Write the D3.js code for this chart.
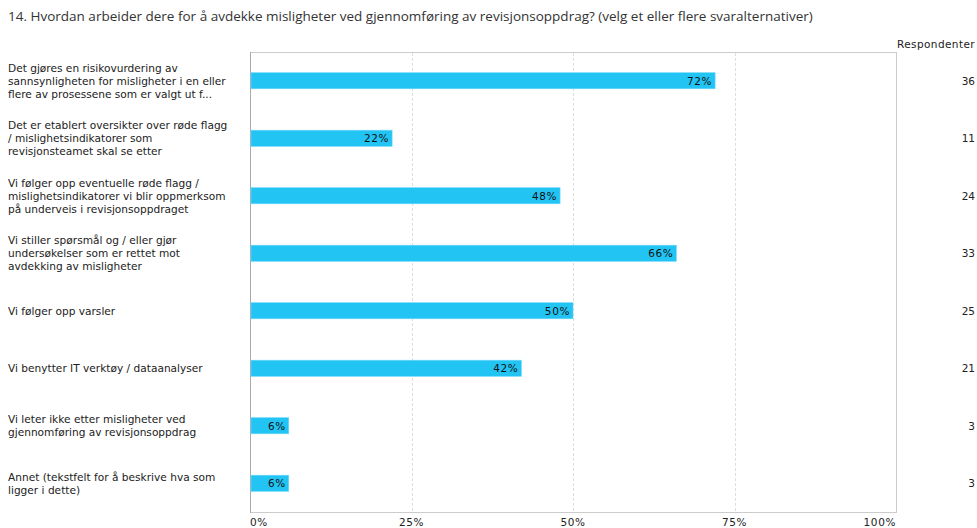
<!DOCTYPE html>
<html>
<head>
<meta charset="utf-8">
<script src="https://cdn.jsdelivr.net/npm/d3@7"></script>
<style>
  html, body { margin: 0; padding: 0; background: #fff; }
  svg { display: block; }
</style>
</head>
<body>
<svg id="chart" width="977" height="528"></svg>
<script>
// Survey question and answer options
const title = "14. Hvordan arbeider dere for å avdekke misligheter ved gjennomføring av revisjonsoppdrag? (velg et eller flere svaralternativer)";
const categories = [
  ["Det gjøres en risikovurdering av", "sannsynligheten for misligheter i en eller", "flere av prosessene som er valgt ut f..."],
  ["Det er etablert oversikter over røde flagg", "/ mislighetsindikatorer som", "revisjonsteamet skal se etter"],
  ["Vi følger opp eventuelle røde flagg /", "mislighetsindikatorer vi blir oppmerksom", "på underveis i revisjonsoppdraget"],
  ["Vi stiller spørsmål og / eller gjør", "undersøkelser som er rettet mot", "avdekking av misligheter"],
  ["Vi følger opp varsler"],
  ["Vi benytter IT verktøy / dataanalyser"],
  ["Vi leter ikke etter misligheter ved", "gjennomføring av revisjonsoppdrag"],
  ["Annet (tekstfelt for å beskrive hva som", "ligger i dette)"]
];
const percents = [72, 22, 48, 66, 50, 42, 6, 6];
const respondents = [36, 11, 24, 33, 25, 21, 3, 3];
const tickValues = [0, 25, 50, 75, 100];
const countHeader = "Respondenter";

const svg = d3.select("#chart");
const plot = { left: 250, right: 896, top: 52, bottom: 512 };
const labelFont = "'DejaVu Sans', Verdana, sans-serif";

svg.append("text")
  .attr("x", 8).attr("y", 21)
  .attr("font-family", "'Open Sans', 'Noto Sans', sans-serif")
  .attr("font-size", 13.5)
  .attr("fill", "#333")
  .text(title);

const x = d3.scaleLinear().domain([0, 100]).range([plot.left, plot.right]);
const y = d3.scaleBand().domain(d3.range(categories.length))
  .range([plot.top, plot.bottom]).paddingInner(0.72).paddingOuter(0.36);

// plot frame
svg.append("rect")
  .attr("x", plot.left + 0.5).attr("y", plot.top + 0.5)
  .attr("width", plot.right - plot.left).attr("height", plot.bottom - plot.top)
  .attr("fill", "none").attr("stroke", "#cccccc");

// dashed gridlines
svg.append("g").selectAll("line")
  .data(tickValues.filter(t => t > 0 && t < 100))
  .join("line")
  .attr("x1", d => Math.round(x(d)) + 0.5).attr("x2", d => Math.round(x(d)) + 0.5)
  .attr("y1", plot.top + 1).attr("y2", plot.bottom)
  .attr("stroke", "#dddddd").attr("stroke-dasharray", "3,2");

// left baseline
svg.append("line")
  .attr("x1", plot.left + 0.5).attr("x2", plot.left + 0.5)
  .attr("y1", plot.top).attr("y2", plot.bottom + 1)
  .attr("stroke", "#aaaaaa");

// x-axis tick labels
svg.append("g").selectAll("text")
  .data(tickValues)
  .join("text")
  .attr("x", d => x(d))
  .attr("y", 526)
  .attr("text-anchor", d => d === 0 ? "start" : d === 100 ? "end" : "middle")
  .attr("font-family", labelFont).attr("font-size", 10.5)
  .attr("letter-spacing", 0.6)
  .attr("fill", "#222")
  .text(d => d + "%");

// bars
svg.append("g").selectAll("rect")
  .data(percents)
  .join("rect")
  .attr("x", plot.left + 1)
  .attr("y", (d, i) => y(i))
  .attr("width", d => x(d) - plot.left - 1)
  .attr("height", y.bandwidth())
  .attr("fill", "#22c4f4")
  .attr("stroke", "#6fd8f8").attr("stroke-width", 0.6);

// value labels inside bar ends
svg.append("g").selectAll("text")
  .data(percents)
  .join("text")
  .attr("x", d => x(d) - 3)
  .attr("y", (d, i) => y(i) + y.bandwidth() / 2 + 4)
  .attr("text-anchor", "end")
  .attr("font-family", labelFont).attr("font-size", 10.5)
  .attr("letter-spacing", 0.6)
  .attr("fill", "#111")
  .text(d => d + "%");

// category labels
const catG = svg.append("g");
categories.forEach((lines, i) => {
  const cy = y(i) + y.bandwidth() / 2;
  const lh = 13;
  const y0 = cy - (lines.length - 1) * lh / 2 + 4;
  const t = catG.append("text")
    .attr("font-family", labelFont).attr("font-size", 10.6)
    .attr("fill", "#222");
  lines.forEach((ln, k) => {
    t.append("tspan").attr("x", 8).attr("y", y0 + k * lh).text(ln);
  });
});

// respondent counts
svg.append("text")
  .attr("x", 975).attr("y", 48)
  .attr("text-anchor", "end")
  .attr("font-family", labelFont).attr("font-size", 10.5)
  .attr("letter-spacing", 0.4)
  .attr("fill", "#222")
  .text(countHeader);

svg.append("g").selectAll("text")
  .data(respondents)
  .join("text")
  .attr("x", 975)
  .attr("y", (d, i) => y(i) + y.bandwidth() / 2 + 4)
  .attr("text-anchor", "end")
  .attr("font-family", labelFont).attr("font-size", 10.5)
  .attr("fill", "#222")
  .text(d => d);
</script>
</body>
</html>
